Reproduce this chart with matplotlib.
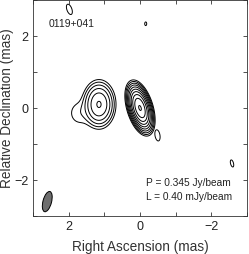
import numpy as np
import matplotlib
matplotlib.use("Agg")
import matplotlib.pyplot as plt
from matplotlib.patches import Ellipse

plt.rcParams['font.family'] = ['Liberation Sans', 'DejaVu Sans']

# Source components (RA offset mas, Dec offset mas, peak mJy/beam, sigma major, sigma minor, PA deg)
comp_ra = [0.0, 1.15, 1.70]
comp_dec = [0.0, 0.10, -0.14]
comp_peak = [215.0, 13.5, 0.65]
comp_smaj = [0.228, 0.26, 0.25]
comp_smin = [0.104, 0.18, 0.22]
comp_pa = [17.0, 0.0, 0.0]

# Faint isolated features at the lowest contour level
blob_ra = [1.98, -0.16, -0.49, -2.58]
blob_dec = [2.74, 2.34, -0.76, -1.54]
blob_peak = [0.75, 0.75, 0.75, 0.75]
blob_smaj = [0.134, 0.045, 0.14, 0.09]
blob_smin = [0.062, 0.025, 0.062, 0.037]
blob_pa = [20.0, 0.0, 10.0, 15.0]

peak_jy = 0.345
lowest_mjy = 0.40
level_factors = [1, 2, 4, 8, 16, 32, 64, 128, 256, 512]

beam_ra, beam_dec = 2.6, -2.6
beam_major, beam_minor, beam_pa = 0.58, 0.24, 15.0

ra = np.linspace(3.2, -3.2, 900)
dec = np.linspace(-3.2, 3.2, 900)
RA, DEC = np.meshgrid(ra, dec)


def gauss_image(xs, ys, ps, sas, sbs, pas):
    img = np.zeros_like(RA)
    for x0, y0, p, sa, sb, pa in zip(xs, ys, ps, sas, sbs, pas):
        t = np.deg2rad(pa)
        dx = RA - x0
        dy = DEC - y0
        u = dx * np.sin(t) + dy * np.cos(t)   # along major axis (PA from N to E)
        v = dx * np.cos(t) - dy * np.sin(t)
        img += p * np.exp(-0.5 * ((u / sa) ** 2 + (v / sb) ** 2))
    return img


img_main = gauss_image(comp_ra, comp_dec, comp_peak, comp_smaj, comp_smin, comp_pa)
img_blobs = gauss_image(blob_ra, blob_dec, blob_peak, blob_smaj, blob_smin, blob_pa)

levels = [lowest_mjy * f for f in level_factors]

fig = plt.figure(figsize=(2.49, 2.54), dpi=100)
ax = fig.add_axes([0.1325, 0.1496, 0.8595, 0.8504])
ax.contour(RA, DEC, img_main, levels=levels, colors='black', linewidths=0.7)
ax.contour(RA, DEC, img_blobs, levels=levels, colors='black', linewidths=0.7)
ax.add_patch(Ellipse((beam_ra, beam_dec), beam_minor, beam_major, angle=beam_pa,
                     facecolor='#6e6e6e', edgecolor='black', linewidth=0.7))

ax.set_xlim(3, -3)
ax.set_ylim(-3, 3)
ax.set_xticks([2, 0, -2])
ax.set_yticks([-2, 0, 2])
ax.set_xticks([3, 1, -1, -3], minor=True)
ax.set_yticks([-3, -1, 1, 3], minor=True)
ax.tick_params(which='both', direction='in', top=True, right=True, labelsize=9,
               width=0.6, colors='#333333', labelcolor='#222222')
ax.tick_params(which='major', length=3)
ax.tick_params(which='minor', length=3)
for s in ax.spines.values():
    s.set_linewidth(0.6)
    s.set_color('#333333')
ax.set_xlabel('Right Ascension (mas)', fontsize=9.8, color='#333333', labelpad=5)
ax.set_ylabel('Relative Declination (mas)', fontsize=9.8, color='#333333', labelpad=0)

ax.text(2.56, 2.34, '0119+041', fontsize=7.5, va='center', ha='left', color='#222222')
ax.text(-0.17, -2.07, 'P = %.3f Jy/beam' % peak_jy, fontsize=7.3, va='center', ha='left', color='#222222')
ax.text(-0.17, -2.47, 'L = %.2f mJy/beam' % lowest_mjy, fontsize=7.3, va='center', ha='left', color='#222222')

fig.savefig('out.png', dpi=100)
